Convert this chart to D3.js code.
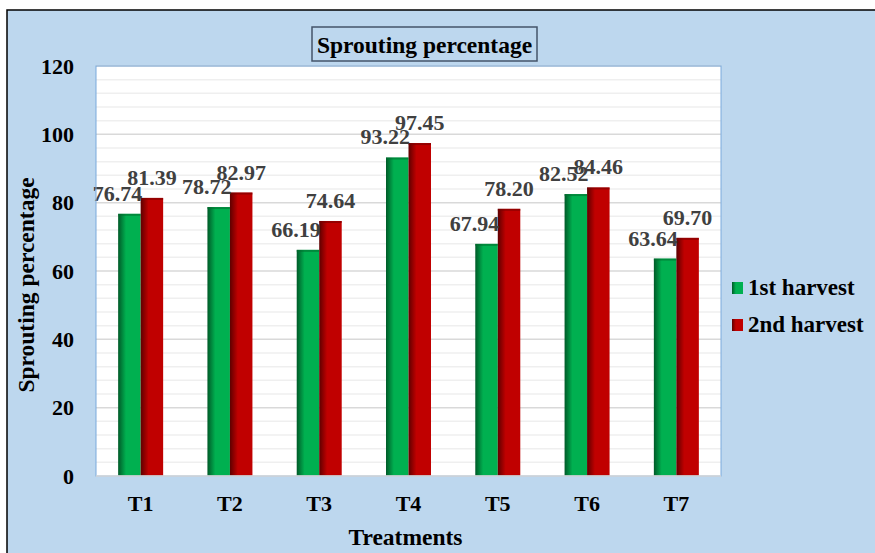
<!DOCTYPE html>
<html>
<head>
<meta charset="utf-8">
<script src="https://cdn.jsdelivr.net/npm/d3@7"></script>
<style>
  body { margin: 0; background: #fff; }
  svg text { font-family: "Liberation Serif", Tinos, "Times New Roman", "DejaVu Serif", serif !important; font-weight: bold; }
</style>
</head>
<body>
<script>
// chart data
var treatments = ["T1", "T2", "T3", "T4", "T5", "T6", "T7"];
var seriesNames = ["1st harvest", "2nd harvest"];
var harvest1 = [76.74, 78.72, 66.19, 93.22, 67.94, 82.52, 63.64];
var harvest2 = [81.39, 82.97, 74.64, 97.45, 78.20, 84.46, 69.70];
var yTicks = [0, 20, 40, 60, 80, 100, 120];

// svg size
var svgWidth = 875;
var svgHeight = 553;

// plot area
var margin = { top: 66, left: 96 };
var plotWidth = 625;
var plotHeight = 410;

var svg = d3.select("body").append("svg")
    .attr("width", svgWidth)
    .attr("height", svgHeight);

// gradients for the bars
var defs = svg.append("defs");
function addGrad(id, dark, main) {
    var g = defs.append("linearGradient").attr("id", id)
        .attr("x1", "0%").attr("x2", "100%").attr("y1", "0%").attr("y2", "0%");
    g.append("stop").attr("offset", "0%").attr("stop-color", dark);
    g.append("stop").attr("offset", "35%").attr("stop-color", main);
    g.append("stop").attr("offset", "100%").attr("stop-color", main);
}
addGrad("g1", "#005a28", "#00b050");
addGrad("g2", "#5e0000", "#c00000");
var fills = ["url(#g1)", "url(#g2)"];
var topColors = ["#00702f", "#7a0000"];

// outer chart background
svg.append("rect")
    .attr("x", 7).attr("y", 10)
    .attr("width", 890).attr("height", 570)
    .attr("fill", "#bdd7ee")
    .attr("stroke", "#000")
    .attr("stroke-width", 1.5);

var chart = svg.append("g")
    .attr("transform", `translate(${margin.left}, ${margin.top})`);

chart.append("rect")
    .attr("width", plotWidth).attr("height", plotHeight)
    .attr("fill", "#fff");

// scales
var x0 = d3.scaleBand()
    .domain(treatments)
    .range([0, plotWidth])
    .paddingInner(0.496)
    .paddingOuter(0.248);

var x1 = d3.scaleBand()
    .domain(seriesNames)
    .range([0, x0.bandwidth()]);

var y = d3.scaleLinear()
    .domain([0, 120])
    .range([plotHeight, 0]);

// minor gridlines
chart.append("g").selectAll("line")
    .data(d3.range(0, 121, 4).filter(v => v % 20 !== 0))
    .enter().append("line")
    .attr("x1", 0).attr("x2", plotWidth)
    .attr("y1", d => y(d)).attr("y2", d => y(d))
    .attr("stroke", "#efefef")
    .attr("stroke-width", 1.5);

// major gridlines
chart.append("g").selectAll("line")
    .data(yTicks.slice(1))
    .enter().append("line")
    .attr("x1", 0).attr("x2", plotWidth)
    .attr("y1", d => y(d)).attr("y2", d => y(d))
    .attr("stroke", "#d9d9d9")
    .attr("stroke-width", 1.5);

// y axis labels
var leftAxis = d3.axisLeft(y).tickValues(yTicks).tickSize(0).tickPadding(22);
var yAxis = chart.append("g").call(leftAxis).attr("font-family", null);
yAxis.select(".domain").remove();
yAxis.selectAll("text")
    .attr("font-size", 22)
    .attr("fill", "#000");

// bars
var rows = treatments.map((t, i) => ({ t: t, vals: [harvest1[i], harvest2[i]] }));

var groups = chart.selectAll(".grp")
    .data(rows)
    .enter().append("g")
    .attr("class", "grp")
    .attr("transform", d => `translate(${x0(d.t)}, 0)`);

groups.selectAll("rect")
    .data(d => d.vals.map((v, k) => ({ s: seriesNames[k], k: k, v: v })))
    .enter().append("rect")
    .attr("x", d => x1(d.s))
    .attr("y", d => y(d.v))
    .attr("width", x1.bandwidth())
    .attr("height", d => plotHeight - y(d.v))
    .attr("fill", d => fills[d.k]);

groups.selectAll(".top")
    .data(d => d.vals.map((v, k) => ({ s: seriesNames[k], k: k, v: v })))
    .enter().append("line")
    .attr("class", "top")
    .attr("x1", d => x1(d.s))
    .attr("x2", d => x1(d.s) + x1.bandwidth())
    .attr("y1", d => y(d.v) + 1)
    .attr("y2", d => y(d.v) + 1)
    .attr("stroke", d => topColors[d.k])
    .attr("stroke-width", 2)
    .attr("opacity", 0.6);

// data labels (1st harvest labels nudged left like the original)
groups.selectAll(".lbl")
    .data(d => d.vals.map((v, k) => ({ s: seriesNames[k], k: k, v: v })))
    .enter().append("text")
    .attr("class", "lbl")
    .attr("x", d => x1(d.s) + x1.bandwidth() / 2 + (d.k === 0 ? -12 : 0))
    .attr("y", d => y(d.v) - 13)
    .attr("text-anchor", "middle")
    .attr("font-size", 22)
    .attr("fill", "#404040")
    .text(d => d.v.toFixed(2));

// plot border
chart.append("rect")
    .attr("width", plotWidth).attr("height", plotHeight)
    .attr("fill", "none")
    .attr("stroke", "#7aaadc")
    .attr("stroke-width", 1);
chart.append("line")
    .attr("x1", 0).attr("x2", plotWidth)
    .attr("y1", plotHeight).attr("y2", plotHeight)
    .attr("stroke", "#d9d9d9")
    .attr("stroke-width", 1.5);

// x axis labels
var bottomAxis = d3.axisBottom(x0).tickSize(0).tickPadding(19);
var xAxis = chart.append("g")
    .attr("transform", `translate(0, ${plotHeight})`)
    .call(bottomAxis)
    .attr("font-family", null);
xAxis.select(".domain").remove();
xAxis.selectAll("text")
    .attr("font-size", 22)
    .attr("fill", "#000");

// axis titles
svg.append("text")
    .attr("x", margin.left + plotWidth / 2 - 3)
    .attr("y", 545)
    .attr("text-anchor", "middle")
    .attr("font-size", 23.5)
    .text("Treatments");

svg.append("text")
    .attr("transform", "translate(34, 285) rotate(-90)")
    .attr("text-anchor", "middle")
    .attr("font-size", 23.5)
    .text("Sprouting percentage");

// title box
svg.append("rect")
    .attr("x", 312).attr("y", 27)
    .attr("width", 225).attr("height", 34)
    .attr("fill", "#bdd7ee")
    .attr("stroke", "#44546a")
    .attr("stroke-width", 1.5);
svg.append("text")
    .attr("x", 424.5).attr("y", 53)
    .attr("text-anchor", "middle")
    .attr("font-size", 23.5)
    .attr("fill", "#000")
    .text("Sprouting percentage");

// legend
var legend = svg.append("g").attr("transform", "translate(732, 282)");
var items = legend.selectAll("g")
    .data(seriesNames)
    .enter().append("g")
    .attr("transform", (d, i) => `translate(0, ${i * 37})`);
items.append("rect")
    .attr("width", 11).attr("height", 12)
    .attr("fill", (d, i) => fills[i]);
items.append("text")
    .attr("x", 16).attr("y", 13)
    .attr("font-size", 23)
    .attr("fill", "#000")
    .text(d => d);
</script>
</body>
</html>
